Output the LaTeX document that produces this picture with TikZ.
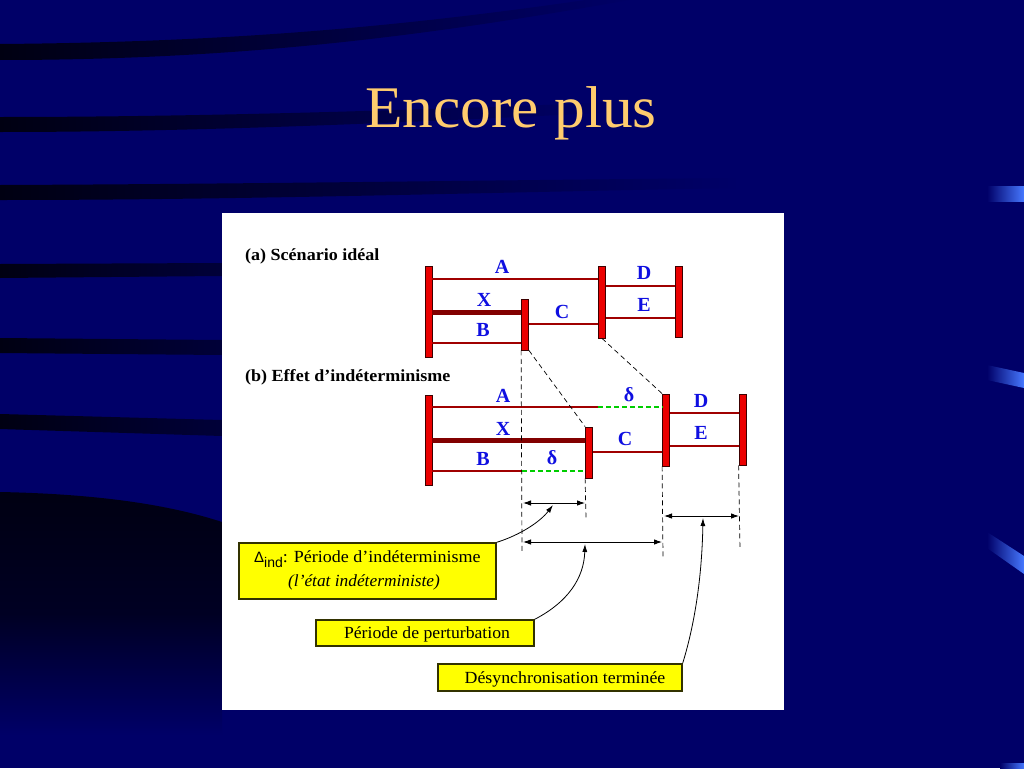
\documentclass[tikz,border=0pt]{standalone}
\usepackage{graphicx}
\usepackage{fontspec}
\setmainfont{Liberation Serif}
\setsansfont{Liberation Sans}
\usetikzlibrary{arrows.meta,calc}
\definecolor{bg}{RGB}{0,0,104}
\definecolor{stripe}{RGB}{0,0,18}
\definecolor{titleor}{RGB}{255,204,110}
\definecolor{barred}{RGB}{235,0,0}
\definecolor{barline}{RGB}{60,0,0}
\definecolor{linered}{RGB}{160,0,0}
\definecolor{thickred}{RGB}{130,0,0}
\definecolor{lblue}{RGB}{15,15,225}
\definecolor{dgreen}{RGB}{0,205,0}
\definecolor{tabblue}{RGB}{70,120,255}
\definecolor{boxyellow}{RGB}{255,255,0}
\definecolor{boxline}{RGB}{50,50,0}
\newcommand{\wx}[2]{\scalebox{#1}[1]{#2}}
\begin{document}
\begin{tikzpicture}[x=1pt,y=-1pt,
  barbox/.style={draw=barline,line width=0.8pt,fill=barred,inner sep=0pt,minimum width=7pt},
  rline/.style={draw=linered,line width=2.4pt},
  xline/.style={draw=thickred,line width=5pt},
  gdash/.style={draw=dgreen,line width=2.4pt,dash pattern=on 5pt off 3pt},
  guide/.style={draw=black,line width=0.7pt,dash pattern=on 5pt off 3.5pt},
  dim/.style={draw=black,line width=0.9pt,{Latex[length=8pt,width=5.5pt]}-{Latex[length=8pt,width=5.5pt]}},
  lead/.style={draw=black,line width=0.8pt,-{Latex[length=8pt,width=5pt]}},
  lbl/.style={text=lblue,font=\fontsize{20}{22}\selectfont\bfseries,inner sep=0pt},
  hdr/.style={font=\fontsize{17}{19}\selectfont\bfseries,inner sep=0pt,anchor=base west},
  ybox/.style={draw=boxline,line width=1.3pt,fill=boxyellow,inner sep=0pt},
  btxt/.style={font=\fontsize{17}{19}\selectfont,inner sep=0pt}]
\useasboundingbox (0,0) rectangle (1024,768);
% background
\fill[bg] (0,0) rectangle (1024,768);
\shade[left color=stripe,right color=bg] (0,44) .. controls (250,42) and (420,24) .. (600,-2) -- (640,-2) .. controls (440,34) and (250,60) .. (0,60) -- cycle;
\shade[left color=stripe,right color=bg] (0,117) .. controls (200,117) and (420,110) .. (620,102) -- (620,112) .. controls (420,122) and (200,132) .. (0,132) -- cycle;
\shade[left color=stripe,right color=bg] (0,185) .. controls (250,184) and (500,180) .. (740,178) -- (740,188) .. controls (500,192) and (250,200) .. (0,200) -- cycle;
\shade[left color=stripe,right color=stripe!55!bg] (0,264) -- (222,263) -- (222,276) -- (0,278) -- cycle;
\shade[left color=stripe,right color=stripe!55!bg] (0,338) -- (222,340) -- (222,355) -- (0,353) -- cycle;
\shade[left color=stripe,right color=stripe!55!bg] (0,414) -- (222,420) -- (222,436) -- (0,429) -- cycle;
\shade[top color=stripe,bottom color=bg,middle color=stripe!80!bg] (0,492) .. controls (100,494) and (170,505) .. (222,522) -- (222,735) -- (0,735) -- cycle;
% right tabs
\shade[left color=bg,right color=tabblue] (987,186) rectangle (1024,201);
\shade[left color=bg,right color=tabblue] (987,365) -- (1024,373) -- (1024,388) -- (987,380) -- cycle;
\shade[left color=bg,right color=tabblue] (987,532) -- (1024,556) -- (1024,574) -- (987,548) -- cycle;
\shade[left color=bg,right color=tabblue] (1000,763) -- (1024,763) -- (1024,768) -- (1000,768) -- cycle;
% title
\node[text=titleor,font=\fontsize{59}{62}\selectfont,anchor=base,inner sep=0pt] (title) at (511,127) {\wx{1.04}{Encore plus}};
% panel
\fill[white] (222,213) rectangle (784,710);
% headers
\node[hdr] (ha) at (245,260) {\wx{1.06}{(a) Scénario idéal}};
\node[hdr] (hb) at (245,381) {\wx{1.06}{(b) Effet d’indéterminisme}};
% ---------- (a) ----------
\node[barbox,minimum height=91pt] (a1) at (428.5,311.5) {};
\node[barbox,minimum height=51pt] (a2) at (525,324.5) {};
\node[barbox,minimum height=72pt] (a3) at (602,302) {};
\node[barbox,minimum height=71pt] (a4) at (678.5,301.5) {};
\draw[rline] (a1.east |- 0,279) -- (a3.west |- 0,279);
\draw[xline] (a1.east |- 0,312) -- (a2.west |- 0,312);
\draw[rline] (a1.east |- 0,343) -- (a2.west |- 0,343);
\draw[rline] (a2.east |- 0,324) -- (a3.west |- 0,324);
\draw[rline] (a3.east |- 0,286) -- (a4.west |- 0,286);
\draw[rline] (a3.east |- 0,318) -- (a4.west |- 0,318);
\node[lbl] (la) at (502,267) {A};
\node[lbl] (lx) at (484,299.5) {X};
\node[lbl] (lb) at (483,330) {B};
\node[lbl] (lc) at (562,311.5) {C};
\node[lbl] (ld) at (644,273) {D};
\node[lbl] (le) at (644,305) {E};
% ---------- (b) ----------
\node[barbox,minimum height=90pt] (b1) at (428.5,440) {};
\node[barbox,minimum height=51pt] (b2) at (589,452.5) {};
\node[barbox,minimum height=72pt] (b3) at (666,430) {};
\node[barbox,minimum height=71pt] (b4) at (742.5,429.5) {};
\coordinate (ga) at (598,407);
\coordinate (gb) at (522,471);
\draw[rline] (b1.east |- ga) -- (ga);
\draw[gdash] (ga) -- (b3.west |- ga);
\draw[xline] (b1.east |- 0,440) -- (b2.west |- 0,440);
\draw[rline] (b1.east |- gb) -- (gb);
\draw[gdash] (gb) -- (b2.west |- gb);
\draw[rline] (b2.east |- 0,452) -- (b3.west |- 0,452);
\draw[rline] (b3.east |- 0,413) -- (b4.west |- 0,413);
\draw[rline] (b3.east |- 0,446) -- (b4.west |- 0,446);
\node[lbl] (lba) at (503,396) {A};
\node[lbl] (ldt) at (629,395) {δ};
\node[lbl] (lbx) at (503,429) {X};
\node[lbl] (lbb) at (483,459) {B};
\node[lbl] (ldb) at (552,458) {δ};
\node[lbl] (lbc) at (625,439) {C};
\node[lbl] (lbd) at (701,401) {D};
\node[lbl] (lbe) at (701,433) {E};
% guide lines
\coordinate (v1) at (522,552);
\coordinate (v2) at (586,518);
\coordinate (v3) at (663,557);
\coordinate (v4) at (740,550);
\draw[guide] (a2.south west) -- (v1);
\draw[guide] (a2.south east) -- (b2.north west);
\draw[guide] (a3.south) -- (b3.north west);
\draw[guide] (b2.south west) -- (v2);
\draw[guide] (b3.south west) -- (v3);
\draw[guide] (b4.south west) -- (v4);
% dimension arrows
\coordinate (d1l) at (523,503);
\coordinate (d1r) at (585,503);
\coordinate (d2l) at (523,542);
\coordinate (d2r) at (662,542);
\coordinate (d3l) at (664,516);
\coordinate (d3r) at (739,516);
\draw[dim] (d1l) -- (d1r);
\draw[dim] (d2l) -- (d2r);
\draw[dim] (d3l) -- (d3r);
% yellow boxes
\node[ybox,minimum width=257pt,minimum height=56pt] (box1) at (367.5,571) {};
\node[ybox,minimum width=218pt,minimum height=26pt] (box2) at (425,633) {};
\node[ybox,minimum width=244pt,minimum height=27pt] (box3) at (560,677.5) {};
\node[btxt,anchor=base west] (t1) at (254,562) {{\sffamily\fontsize{15}{17}\selectfont Δ\raisebox{-5pt}{\fontsize{14}{16}\selectfont ind}}\wx{1.06}{: Période d’indéterminisme}};
\node[btxt,anchor=base] (t2) at (364,586) {\wx{1.02}{\itshape (l’état indéterministe)}};
\node[btxt,anchor=base] (t3) at (427,638) {\wx{1.04}{Période de perturbation}};
\node[btxt,anchor=base] (t4) at (565,683) {\wx{1.05}{Désynchronisation terminée}};
% leaders
\draw[lead] (box1.north east) .. controls (520,535) and (540,522) .. (553,505);
\draw[lead] (box2.north east) .. controls (568,602) and (584,578) .. (585,544);
\draw[lead] (box3.north east) .. controls (696,620) and (702,572) .. (703,518);
\end{tikzpicture}
\end{document}
